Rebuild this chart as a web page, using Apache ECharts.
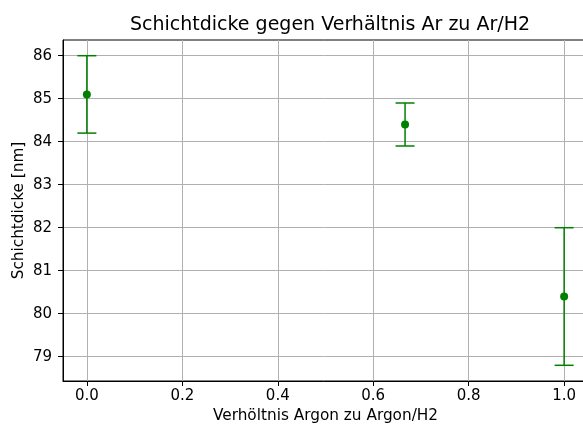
<!DOCTYPE html>
<html><head><meta charset="utf-8">
<script src="https://cdn.jsdelivr.net/npm/echarts@6/dist/echarts.min.js"></script>
<style>html,body{margin:0;padding:0;background:#fff}#c{width:583px;height:429px}</style>
</head><body><div id="c"></div>
<script>
const ratios = [0.0, 0.6667, 1.0];
const thickness = [85.1, 84.4, 80.4];
const errors = [0.9, 0.5, 1.6];
const xTicks = [0.0, 0.2, 0.4, 0.6, 0.8, 1.0];
const yTicks = [79, 80, 81, 82, 83, 84, 85, 86];

const font = "'DejaVu Sans', sans-serif";
const chart = echarts.init(document.getElementById('c'), null, {renderer: 'canvas'});
const errData = ratios.map((x, i) => [x, thickness[i] - errors[i], thickness[i] + errors[i]]);
const ptData = ratios.map((x, i) => [x, thickness[i]]);
chart.setOption({
  animation: false,
  backgroundColor: '#fff',
  title: {
    text: 'Schichtdicke gegen Verhältnis Ar zu Ar/H2',
    left: 325, top: 11, textAlign: 'center',
    textStyle: {fontFamily: font, fontSize: 19, fontWeight: 'normal', color: '#000'}
  },
  grid: {left: 63, top: 40, right: -5, bottom: 48, outerBoundsMode: 'none', containLabel: false,
    show: true, borderColor: '#000', borderWidth: 1, backgroundColor: 'transparent'},
  xAxis: {
    type: 'value', min: -0.05, max: 1.05,
    name: 'Verhöltnis Argon zu Argon/H2', nameLocation: 'middle', nameGap: 28,
    nameTextStyle: {fontFamily: font, fontSize: 15.3, color: '#000'},
    axisLine: {show: true, onZero: false, lineStyle: {color: '#000', width: 1}},
    axisTick: {show: true, length: 5, lineStyle: {color: '#000'}, customValues: xTicks},
    axisLabel: {customValues: xTicks, fontFamily: font, fontSize: 15, color: '#000', margin: 8,
      formatter: v => v.toFixed(1)},
    splitLine: {show: true, lineStyle: {color: '#b0b0b0', width: 1}}
  },
  yAxis: {
    type: 'value', min: 78.435, max: 86.365,
    name: 'Schichtdicke [nm]', nameLocation: 'middle', nameGap: 36, nameRotate: 90,
    nameMoveOverlap: false,
    nameTextStyle: {fontFamily: font, fontSize: 15.3, color: '#000'},
    axisLine: {show: true, onZero: false, lineStyle: {color: '#000', width: 1}},
    axisTick: {show: true, length: 5, lineStyle: {color: '#000'}, customValues: yTicks},
    axisLabel: {customValues: yTicks, fontFamily: font, fontSize: 15, color: '#000', margin: 11,
      formatter: v => String(Math.round(v))},
    splitLine: {show: true, lineStyle: {color: '#b0b0b0', width: 1}}
  },
  series: [
    {
      type: 'custom',
      data: errData,
      encode: {x: 0, y: [1, 2]},
      renderItem: function (params, api) {
        const x = api.value(0);
        const lo = api.coord([x, api.value(1)]);
        const hi = api.coord([x, api.value(2)]);
        const cap = 9.5;
        const st = {stroke: '#008000', lineWidth: 1.5};
        return {type: 'group', children: [
          {type: 'line', shape: {x1: lo[0], y1: lo[1], x2: hi[0], y2: hi[1]}, style: st},
          {type: 'line', shape: {x1: lo[0] - cap, y1: lo[1], x2: lo[0] + cap, y2: lo[1]}, style: st},
          {type: 'line', shape: {x1: hi[0] - cap, y1: hi[1], x2: hi[0] + cap, y2: hi[1]}, style: st}
        ]};
      },
      z: 3
    },
    {
      type: 'scatter', data: ptData, symbol: 'circle', symbolSize: 8,
      itemStyle: {color: '#008000', opacity: 1}, z: 4
    }
  ]
});
</script></body></html>
